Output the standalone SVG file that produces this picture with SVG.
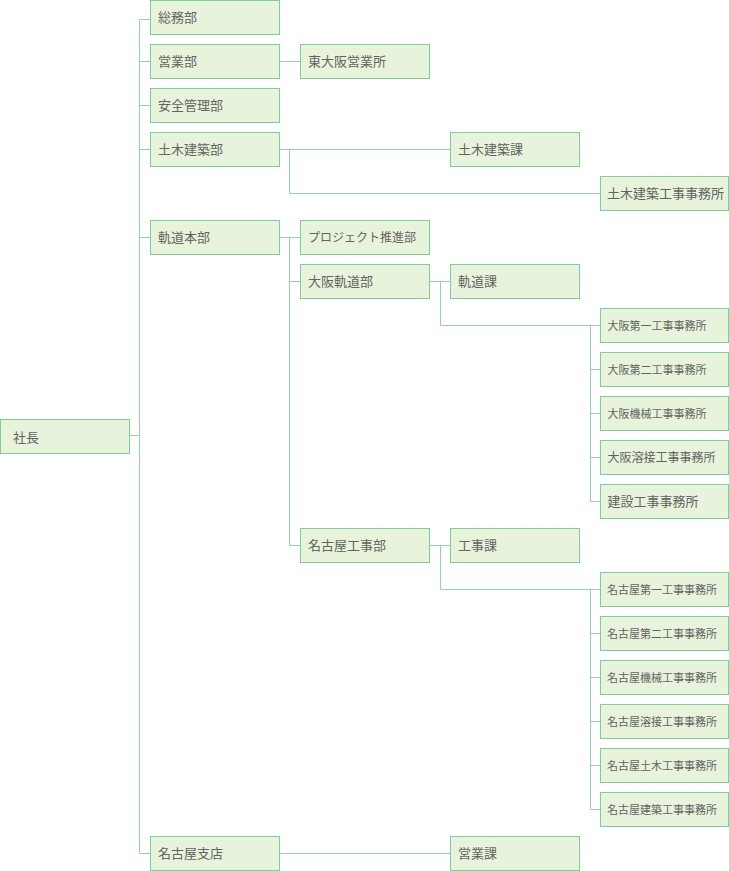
<svg xmlns="http://www.w3.org/2000/svg" width="729" height="871" viewBox="0 0 729 871">
<style>
.b rect{fill:#e7f3da;stroke:#7dcf99;stroke-width:1}
.b text{font-family:"Noto Sans CJK JP","Noto Sans",sans-serif;font-size:13px;fill:#636363}
.b text.s11{font-size:11px}
.b text.s12{font-size:12px}
#connectors path{fill:none;stroke:#8fd5a7;stroke-width:1}
</style>
<rect width="729" height="871" fill="#fff"/>
<g id="connectors">
<path d="M139.5 19.5V853.5M129.5 435.5H139.5M139.5 19.5H150M139.5 61.5H150M139.5 105.5H150M139.5 149.5H150M139.5 237.5H150M139.5 853.5H150"/>
<path d="M279.5 61.5H300"/>
<path d="M279.5 149.5H450M289.5 149.5V193.5H600"/>
<path d="M279.5 237.5H300M289.5 237.5V545.5M289.5 281.5H300M289.5 545.5H300"/>
<path d="M429.5 281.5H450M440.5 281.5V325.5H600M590.5 325.5V501.5M590.5 369.5H600M590.5 413.5H600M590.5 457.5H600M590.5 501.5H600"/>
<path d="M429.5 545.5H450M440.5 545.5V589.5H600M590.5 589.5V809.5M590.5 633.5H600M590.5 677.5H600M590.5 721.5H600M590.5 765.5H600M590.5 809.5H600"/>
<path d="M279.5 853.5H450"/>
</g>
<g id="n-shacho" class="b"><rect x="0.5" y="419.5" width="129" height="34"/><text x="13" y="441.5">社長</text></g>
<g id="n-somu" class="b"><rect x="150.5" y="0.5" width="129" height="34"/><text x="158" y="22">総務部</text></g>
<g id="n-eigyo" class="b"><rect x="150.5" y="44.5" width="129" height="34"/><text x="158" y="66">営業部</text></g>
<g id="n-higashiosaka" class="b"><rect x="300.5" y="44.5" width="129" height="34"/><text x="308" y="66">東大阪営業所</text></g>
<g id="n-anzen" class="b"><rect x="150.5" y="88.5" width="129" height="34"/><text x="158" y="110">安全管理部</text></g>
<g id="n-doboku" class="b"><rect x="150.5" y="132.5" width="129" height="34"/><text x="158" y="154">土木建築部</text></g>
<g id="n-doboku-ka" class="b"><rect x="450.5" y="132.5" width="129" height="34"/><text x="458" y="154">土木建築課</text></g>
<g id="n-doboku-jimusho" class="b"><rect x="600.5" y="176.5" width="128" height="34"/><text x="607" y="198">土木建築工事事務所</text></g>
<g id="n-kido" class="b"><rect x="150.5" y="220.5" width="129" height="34"/><text x="158" y="242">軌道本部</text></g>
<g id="n-project" class="b"><rect x="300.5" y="220.5" width="129" height="34"/><text class="s12" x="308" y="241.8">プロジェクト推進部</text></g>
<g id="n-osaka-kido" class="b"><rect x="300.5" y="264.5" width="129" height="34"/><text x="308" y="286">大阪軌道部</text></g>
<g id="n-kido-ka" class="b"><rect x="450.5" y="264.5" width="129" height="34"/><text x="458" y="286">軌道課</text></g>
<g id="n-osaka1" class="b"><rect x="600.5" y="308.5" width="128" height="34"/><text class="s11" x="607.5" y="329.5">大阪第一工事事務所</text></g>
<g id="n-osaka2" class="b"><rect x="600.5" y="352.5" width="128" height="34"/><text class="s11" x="607.5" y="373.5">大阪第二工事事務所</text></g>
<g id="n-osaka-kikai" class="b"><rect x="600.5" y="396.5" width="128" height="34"/><text class="s11" x="607.5" y="417.5">大阪機械工事事務所</text></g>
<g id="n-osaka-yosetsu" class="b"><rect x="600.5" y="440.5" width="128" height="34"/><text class="s12" x="607.5" y="461.8">大阪溶接工事事務所</text></g>
<g id="n-kensetsu" class="b"><rect x="600.5" y="484.5" width="128" height="34"/><text x="607.5" y="506">建設工事事務所</text></g>
<g id="n-nagoya-koji" class="b"><rect x="300.5" y="528.5" width="129" height="34"/><text x="308" y="550">名古屋工事部</text></g>
<g id="n-koji-ka" class="b"><rect x="450.5" y="528.5" width="129" height="34"/><text x="458" y="550">工事課</text></g>
<g id="n-nagoya1" class="b"><rect x="600.5" y="572.5" width="128" height="34"/><text class="s11" x="607" y="593.5">名古屋第一工事事務所</text></g>
<g id="n-nagoya2" class="b"><rect x="600.5" y="616.5" width="128" height="34"/><text class="s11" x="607" y="637.5">名古屋第二工事事務所</text></g>
<g id="n-nagoya-kikai" class="b"><rect x="600.5" y="660.5" width="128" height="34"/><text class="s11" x="607" y="681.5">名古屋機械工事事務所</text></g>
<g id="n-nagoya-yosetsu" class="b"><rect x="600.5" y="704.5" width="128" height="34"/><text class="s11" x="607" y="725.5">名古屋溶接工事事務所</text></g>
<g id="n-nagoya-doboku" class="b"><rect x="600.5" y="748.5" width="128" height="34"/><text class="s11" x="607" y="769.5">名古屋土木工事事務所</text></g>
<g id="n-nagoya-kenchiku" class="b"><rect x="600.5" y="792.5" width="128" height="34"/><text class="s11" x="607" y="813.5">名古屋建築工事事務所</text></g>
<g id="n-nagoya-shiten" class="b"><rect x="150.5" y="836.5" width="129" height="34"/><text x="158" y="858">名古屋支店</text></g>
<g id="n-eigyo-ka" class="b"><rect x="450.5" y="836.5" width="129" height="34"/><text x="458" y="858">営業課</text></g>
</svg>
